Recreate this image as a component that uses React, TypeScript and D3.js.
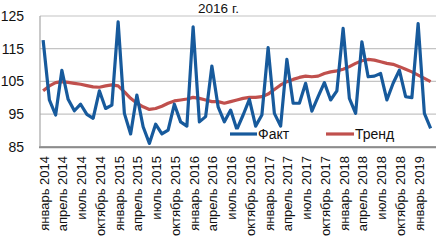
import React from "react";
import * as d3 from "d3";

const monthNames = ["январь", "февраль", "март", "апрель", "май", "июнь", "июль", "август", "сентябрь", "октябрь", "ноябрь", "декабрь"];
const years = [2014, 2015, 2016, 2017, 2018, 2019];
const categories: string[] = [];
years.forEach((y) => monthNames.forEach((m) => categories.push(`${m} ${y}`)));
const nPoints = 63;
const cats = categories.slice(0, nPoints);

const fact = [
  117.6, 99.3, 94.7, 108.4, 99.5, 96.0, 98.0, 94.9, 93.7, 102.1, 96.7, 97.7,
  123.2, 95.2, 88.9, 100.8, 91.1, 86.0, 91.9, 88.9, 90.1, 98.0, 92.6, 91.3,
  121.7, 92.6, 94.2, 109.7, 97.2, 92.6, 96.2, 90.3, 94.7, 99.5, 91.3, 94.7,
  115.3, 95.2, 91.3, 111.7, 98.3, 98.3, 104.4, 95.9, 100.3, 104.6, 99.3, 102.1,
  121.2, 99.8, 95.2, 117.1, 106.4, 106.6, 107.4, 99.3, 104.4, 108.4, 100.3, 100.0,
  122.7, 95.2, 90.6,
];
const trend = [
  102.1, 103.6, 104.6, 104.9, 104.7, 104.4, 104.1, 103.7, 103.3, 103.2, 103.6, 103.9,
  103.6, 101.8, 99.8, 98.3, 97.2, 96.4, 96.7, 97.4, 98.3, 99.0, 99.3, 99.6,
  100.1, 99.8, 99.3, 98.8, 98.8, 98.3, 98.8, 99.3, 99.8, 100.1, 100.1, 100.3,
  101.1, 102.5, 103.9, 104.9, 105.6, 106.2, 106.6, 106.4, 106.6, 107.4, 107.9, 108.2,
  108.7, 109.5, 110.5, 111.3, 111.7, 111.5, 111.0, 110.5, 110.2, 109.5, 108.7, 107.9,
  106.9, 105.9, 104.9,
];
const yTicks = [85, 95, 105, 115, 125];
const title = "2016 г.";
const seriesNames = ["Факт", "Тренд"];

const W = 436;
const H = 250;
const left = 40;
const right = 433.75;
const top = 16;
const bottom = 146.7;
const FONT = "'Liberation Sans', Arial, sans-serif";
const BLUE = "#175a9c";
const RED = "#c0504d";

export default function App() {
  const x = d3.scalePoint<string>().domain(cats).range([left, right]).padding(0.5);
  const y = d3.scaleLinear().domain([85, 125]).range([bottom, top]);
  const line = d3
    .line<number>()
    .x((_, i) => x(cats[i]) as number)
    .y((d) => y(d));

  const labelCats = cats.filter((_, i) => i % 3 === 0);

  return (
    <svg
      width={W}
      height={H}
      style={{ position: "absolute", left: 0, top: 0, background: "#fff" }}
      fontFamily={FONT}
    >
      <rect x={0} y={0} width={W} height={H} fill="#fff" />
      {yTicks.map((t) => (
        <line key={t} x1={left} x2={W} y1={y(t)} y2={y(t)} stroke="#c4c4c4" strokeWidth={1.2} />
      ))}
      <line x1={left} x2={left} y1={top} y2={bottom} stroke="#a6a6a6" strokeWidth={1.2} />
      {yTicks.map((t) => (
        <text key={t} x={24} y={y(t)} dy="0.35em" textAnchor="end" fontSize={14} fill="#111">
          {t}
        </text>
      ))}
      <text x={218.5} y={12.5} textAnchor="middle" fontSize={13.5} fill="#111">
        {title}
      </text>
      <path d={line(trend) || ""} fill="none" stroke={RED} strokeWidth={3.2} strokeLinejoin="round" />
      <path d={line(fact) || ""} fill="none" stroke={BLUE} strokeWidth={3.2} strokeLinejoin="round" />
      {/* legend */}
      <rect x={226} y={129.5} width={160} height={15.5} fill="#fff" />
      <line x1={230} x2={257} y1={134} y2={134} stroke={BLUE} strokeWidth={3.2} />
      <text x={258} y={139} fontSize={14} fill="#111">{seriesNames[0]}</text>
      <line x1={326} x2={354} y1={134} y2={134} stroke={RED} strokeWidth={3.2} />
      <text x={355} y={139} fontSize={14} fill="#111">{seriesNames[1]}</text>
      <line x1={left - 1} x2={W} y1={bottom + 0.5} y2={bottom + 0.5} stroke="#8c8c8c" strokeWidth={2} />
      {labelCats.map((c) => (
        <text
          key={c}
          transform={`translate(${(x(c) as number) + 1},${156}) rotate(-90)`}
          dy="0.35em"
          textAnchor="end"
          fontSize={13}
          fill="#111"
        >
          {c}
        </text>
      ))}
    </svg>
  );
}
